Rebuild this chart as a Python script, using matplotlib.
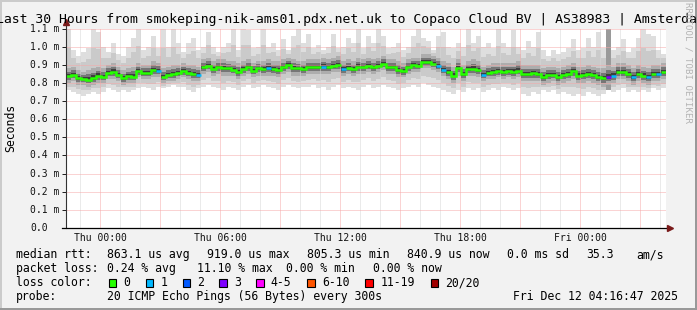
import numpy as np
import matplotlib
matplotlib.use("Agg")
import matplotlib.pyplot as plt
from matplotlib.patches import Rectangle
from matplotlib.transforms import blended_transform_factory

# ---------------- data ----------------
start_hour = -1.72      # hours relative to Thu 00:00
step_hours = 0.25       # one sample every 15 minutes (display resolution)

median = [
    0.840, 0.845, 0.827, 0.822, 0.818, 0.828, 0.840, 0.835, 0.855, 0.862, 0.845, 0.825,
    0.838, 0.835, 0.865, 0.855, 0.855, 0.870, 0.868, 0.835, 0.845, 0.848, 0.855,
    0.864, 0.857, 0.850, 0.845, 0.886, 0.895, 0.878, 0.890, 0.882, 0.880, 0.872, 0.860,
    0.878, 0.885, 0.868, 0.880, 0.876, 0.880, 0.875, 0.870, 0.885, 0.900, 0.882, 0.880, 0.875,
    0.886, 0.885, 0.888, 0.890, 0.888, 0.892, 0.900, 0.875, 0.882, 0.875, 0.890, 0.890,
    0.893, 0.885, 0.895, 0.905, 0.885, 0.885, 0.870, 0.864, 0.890, 0.900, 0.895, 0.915,
    0.915, 0.905, 0.893, 0.872, 0.860, 0.840, 0.882, 0.848, 0.875, 0.878, 0.872, 0.845,
    0.855, 0.860, 0.865, 0.860, 0.865, 0.862, 0.868, 0.848, 0.850, 0.852, 0.850, 0.830,
    0.845, 0.845, 0.835, 0.845, 0.850, 0.865, 0.840, 0.845, 0.850, 0.845, 0.835, 0.825,
    0.830, 0.840, 0.860, 0.860, 0.850, 0.835, 0.848, 0.840, 0.835, 0.850, 0.850, 0.860,
]
smoke_min = [
    0.76, 0.75, 0.74, 0.73, 0.74, 0.75, 0.74, 0.75, 0.77, 0.76, 0.75, 0.76,
    0.75, 0.76, 0.77, 0.78, 0.77, 0.76, 0.78, 0.77, 0.78, 0.79, 0.78,
    0.78, 0.76, 0.75, 0.77, 0.78, 0.79, 0.78, 0.77, 0.76, 0.78, 0.77, 0.76,
    0.78, 0.79, 0.77, 0.78, 0.79, 0.78, 0.77, 0.76, 0.78, 0.79, 0.78, 0.77, 0.78,
    0.78, 0.79, 0.77, 0.78, 0.76, 0.78, 0.79, 0.77, 0.78, 0.77, 0.76, 0.78,
    0.79, 0.77, 0.78, 0.79, 0.78, 0.77, 0.76, 0.77, 0.78, 0.79, 0.78, 0.80,
    0.79, 0.78, 0.77, 0.76, 0.75, 0.74, 0.76, 0.75, 0.77, 0.76, 0.77, 0.75,
    0.76, 0.77, 0.76, 0.78, 0.77, 0.76, 0.77, 0.74, 0.73, 0.75, 0.74, 0.76,
    0.75, 0.76, 0.74, 0.75, 0.74, 0.73, 0.74, 0.73, 0.75, 0.74, 0.73, 0.74,
    0.76, 0.75, 0.76, 0.77, 0.75, 0.76, 0.75, 0.76, 0.75, 0.77, 0.76, 0.77,
]
smoke_p25 = [
    0.80, 0.81, 0.79, 0.79, 0.78, 0.79, 0.80, 0.80, 0.82, 0.82, 0.81, 0.79,
    0.80, 0.80, 0.83, 0.82, 0.82, 0.83, 0.83, 0.80, 0.81, 0.81, 0.82,
    0.83, 0.82, 0.81, 0.81, 0.85, 0.86, 0.84, 0.85, 0.84, 0.84, 0.84, 0.82,
    0.84, 0.85, 0.83, 0.84, 0.84, 0.84, 0.84, 0.83, 0.85, 0.86, 0.84, 0.84, 0.84,
    0.85, 0.85, 0.85, 0.85, 0.85, 0.86, 0.86, 0.84, 0.85, 0.84, 0.85, 0.85,
    0.86, 0.85, 0.86, 0.87, 0.85, 0.85, 0.83, 0.83, 0.85, 0.86, 0.86, 0.88,
    0.88, 0.87, 0.86, 0.84, 0.82, 0.80, 0.84, 0.81, 0.84, 0.84, 0.83, 0.81,
    0.82, 0.82, 0.83, 0.82, 0.83, 0.82, 0.83, 0.81, 0.81, 0.81, 0.81, 0.79,
    0.80, 0.81, 0.79, 0.80, 0.81, 0.82, 0.80, 0.80, 0.81, 0.80, 0.79, 0.78,
    0.79, 0.80, 0.82, 0.82, 0.81, 0.79, 0.81, 0.80, 0.79, 0.81, 0.81, 0.82,
]
smoke_p75 = [
    0.88, 0.89, 0.87, 0.86, 0.87, 0.88, 0.89, 0.88, 0.90, 0.91, 0.89, 0.87,
    0.88, 0.89, 0.91, 0.90, 0.90, 0.92, 0.91, 0.88, 0.89, 0.90, 0.90,
    0.91, 0.90, 0.90, 0.89, 0.93, 0.94, 0.92, 0.93, 0.93, 0.92, 0.92, 0.91,
    0.92, 0.93, 0.91, 0.92, 0.92, 0.93, 0.92, 0.92, 0.93, 0.94, 0.93, 0.92, 0.92,
    0.93, 0.93, 0.93, 0.94, 0.93, 0.94, 0.95, 0.92, 0.93, 0.92, 0.94, 0.93,
    0.94, 0.93, 0.94, 0.95, 0.93, 0.93, 0.92, 0.91, 0.93, 0.94, 0.94, 0.96,
    0.96, 0.95, 0.94, 0.92, 0.91, 0.89, 0.93, 0.90, 0.92, 0.93, 0.92, 0.89,
    0.90, 0.91, 0.91, 0.91, 0.91, 0.91, 0.92, 0.90, 0.90, 0.90, 0.90, 0.88,
    0.89, 0.89, 0.88, 0.89, 0.90, 0.91, 0.89, 0.89, 0.90, 0.89, 0.88, 0.88,
    0.90, 0.89, 0.91, 0.91, 0.90, 0.88, 0.90, 0.89, 0.88, 0.90, 0.90, 0.91,
]
smoke_max = [
    1.10, 0.98, 0.95, 0.97, 0.99, 1.10, 1.08, 1.00, 0.97, 1.02, 0.96, 0.95,
    1.00, 1.05, 1.10, 0.98, 1.00, 1.06, 0.99, 1.10, 1.00, 1.10, 1.02,
    0.97, 1.02, 1.05, 0.98, 1.00, 1.08, 1.00, 0.97, 1.00, 1.02, 1.10, 0.98,
    1.10, 1.09, 0.99, 1.00, 1.10, 1.00, 1.02, 0.98, 1.04, 0.98, 1.06, 1.10, 1.02,
    1.07, 0.99, 1.01, 0.98, 1.00, 1.07, 0.99, 1.00, 1.05, 1.02, 1.10, 0.99,
    1.06, 1.02, 1.10, 1.06, 0.99, 1.00, 1.02, 0.98, 1.00, 1.06, 1.10, 1.05,
    1.03, 0.98, 1.06, 1.08, 1.00, 0.99, 1.02, 1.00, 1.10, 1.02, 1.06, 1.00,
    1.02, 0.99, 1.10, 1.02, 1.00, 1.09, 1.00, 0.98, 1.03, 1.00, 1.08, 0.98,
    0.95, 0.98, 0.96, 0.97, 0.99, 1.04, 0.98, 0.99, 1.05, 1.00, 1.08, 0.99,
    1.10, 0.98, 1.00, 1.04, 0.97, 0.99, 1.05, 1.10, 1.07, 1.06, 0.98, 0.96,
]
lost_pings = [0] * 120
for idx, n in [(18, 1), (26, 1), (40, 1), (51, 1), (55, 1), (74, 1), (75, 1), (83, 1),
               (108, 3), (109, 1), (113, 1), (116, 1), (118, 1)]:
    lost_pings[idx] = n

y_ticks = [0.0, 0.1, 0.2, 0.3, 0.4, 0.5, 0.6, 0.7, 0.8, 0.9, 1.0, 1.1]
y_tick_labels = ["0.0", "0.1 m", "0.2 m", "0.3 m", "0.4 m", "0.5 m", "0.6 m",
                 "0.7 m", "0.8 m", "0.9 m", "1.0 m", "1.1 m"]
x_tick_hours = [0, 6, 12, 18, 24]
x_tick_labels = ["Thu 00:00", "Thu 06:00", "Thu 12:00", "Thu 18:00", "Fri 00:00"]

loss_labels = ["0", "1", "2", "3", "4-5", "6-10", "11-19", "20/20"]
loss_colors = ["#26ff00", "#00b8ff", "#0059ff", "#7e00ff", "#ff00ff", "#ff5500", "#ff0000", "#a10000"]

title = "Last 30 Hours from smokeping-nik-ams01.pdx.net.uk to Copaco Cloud BV | AS38983 | Amsterdam"
legend_row1 = [("median rtt:", 16), ("863.1 us avg", 107.3), ("919.0 us max", 207.3),
               ("805.3 us min", 307.3), ("840.9 us now", 407.3), ("0.0 ms sd", 507.3),
               ("35.3", 586), ("am/s", 636)]
legend_row2 = [("packet loss:", 16), ("0.24 % avg", 107.3), ("11.10 % max", 197.3),
               ("0.00 % min", 286), ("0.00 % now", 372.7)]
legend_row4 = [("probe:", 16), ("20 ICMP Echo Pings (56 Bytes) every 300s", 107.3),
               ("Fri Dec 12 04:16:47 2025", 513.3)]

# ---------------- figure ----------------
W, H = 697, 310
MONO = "DejaVu Sans Mono"
plt.rcParams["font.family"] = MONO

fig = plt.figure(figsize=(W / 100, H / 100), dpi=100)
fig.patch.set_facecolor("#f2f2f2")

def fx(px):
    return px / W

def fy(py):
    return 1 - py / H

ax_left, ax_right, ax_top, ax_bot = 66, 666, 28.5, 228
ax = fig.add_axes([fx(ax_left), fy(ax_bot), (ax_right - ax_left) / W, (ax_bot - ax_top) / H])
ax.set_facecolor("white")
n = len(median)
t_edges = start_hour + step_hours * np.arange(n + 1)
ax.set_xlim(t_edges[0], t_edges[-1])
ax.set_ylim(0, 1.1)

def ext(a):
    a = np.asarray(a, dtype=float)
    return np.r_[a, a[-1]]

med = np.asarray(median)
lo = np.asarray(smoke_min)
hi = np.asarray(smoke_max)
p25 = np.asarray(smoke_p25)
p75 = np.asarray(smoke_p75)

# smoke: graded bands from the outermost pings towards the median
shades = [(0.0, "#dedede"), (0.5, "#cacaca")]
for frac, col in shades:
    ax.fill_between(t_edges, ext(lo + (p25 - lo) * frac), ext(hi + (p75 - hi) * frac),
                    step="post", color=col, lw=0, zorder=1)
for i, lp in enumerate(lost_pings):
    if lp >= 3:
        ax.fill_between(t_edges[i:i + 2], [lo[i]] * 2, [hi[i]] * 2,
                        step="post", color="#9a9a9a", lw=0, zorder=1.1)
inner = [(0.0, "#adadad"), (0.45, "#767676"), (0.75, "#3e3e3e")]
for frac, col in inner:
    ax.fill_between(t_edges, ext(p25 + (med - p25) * frac), ext(p75 + (med - p75) * frac),
                    step="post", color=col, lw=0, zorder=1.2)

# grid (on top of smoke)
dot = (0, (1, 1))
for h in range(-1, 29):
    col = "#f7a8a8" if h % 3 == 0 else "#d6d6d6"
    ax.axvline(h, color=col, lw=0.72, ls=dot, zorder=2)
for v in y_ticks[1:]:
    ax.axhline(v, color="#f7a8a8", lw=0.72, ls=dot, zorder=2)

# median line coloured by loss
def loss_index(lp):
    if lp <= 3:
        return lp
    if lp <= 5:
        return 4
    if lp <= 10:
        return 5
    if lp <= 19:
        return 6
    return 7

green = np.array([m if lp == 0 else np.nan for m, lp in zip(median, lost_pings)])
ax.plot(t_edges, ext(green), drawstyle="steps-post", color=loss_colors[0], lw=1.8, zorder=3,
        solid_capstyle="butt", solid_joinstyle="miter")
for i, lp in enumerate(lost_pings):
    if lp > 0:
        ax.plot(t_edges[i:i + 2], [median[i]] * 2, color=loss_colors[loss_index(lp)], lw=1.8,
                zorder=3.1, solid_capstyle="butt")

# axes cosmetics
for s in ax.spines.values():
    s.set_visible(False)
ax.set_xticks([])
ax.set_yticks(y_ticks)
ax.set_yticklabels([])
ax.tick_params(axis="y", length=3.2, width=0.72, color="#222222")

ax.plot([0, 0], [0, 1.03], transform=ax.transAxes, color="#333333", lw=0.8, clip_on=False, zorder=4)
ax.plot([-0.007, 1.006], [0, 0], transform=ax.transAxes, color="#000000", lw=0.9, clip_on=False, zorder=4)
ax.plot([0], [1.035], transform=ax.transAxes, marker="^", color="#7a1a1a", ms=4, clip_on=False, zorder=5)
ax.plot([1.007], [0], transform=ax.transAxes, marker=">", color="#7a1a1a", ms=4, clip_on=False, zorder=5)

# tick labels
ty = blended_transform_factory(fig.transFigure, ax.transData)
for v, lab in zip(y_ticks, y_tick_labels):
    fig.text(fx(30), v, lab, transform=ty, ha="left", va="center", fontsize=7.0, color="#111111")
tx = blended_transform_factory(ax.transData, fig.transFigure)
for h, lab in zip(x_tick_hours, x_tick_labels):
    fig.text(h, fy(238), lab, transform=tx, ha="center", va="center", fontsize=7.0, color="#111111")

# title, y label, watermark
fig.text(fx(350), fy(19), title, ha="center", va="center", fontsize=9.45, color="#000000")
fig.text(fx(11), fy(128), "Seconds", rotation=90, ha="center", va="center", fontsize=8.3)
fig.text(fx(688), fy(63), "RRDTOOL / TOBI OETIKER", rotation=270, ha="center", va="center",
         fontsize=6.6, color="#b4b4b4")

# legend
LF = 8.3
for txt, x in legend_row1:
    fig.text(fx(x), fy(254.5), txt, ha="left", va="center", fontsize=LF)
for txt, x in legend_row2:
    fig.text(fx(x), fy(268.5), txt, ha="left", va="center", fontsize=LF)
fig.text(fx(16), fy(282.5), "loss color:", ha="left", va="center", fontsize=LF)
box_x = [108.7, 145.7, 182.7, 219.3, 256, 307.3, 365.3, 430.7]
lab_x = [123.3, 160.7, 197.3, 234, 270.7, 322.7, 380.7, 445.3]
for bx, lx, lab, col in zip(box_x, lab_x, loss_labels, loss_colors):
    fig.patches.append(Rectangle((fx(bx), fy(286.5)), 7.5 / W, 7.5 / H, transform=fig.transFigure,
                                 facecolor=col, edgecolor="black", lw=0.8))
    fig.text(fx(lx), fy(282.5), lab, ha="left", va="center", fontsize=LF)
for txt, x in legend_row4:
    fig.text(fx(x), fy(296.5), txt, ha="left", va="center", fontsize=LF)

# 3D frame
fig.patches.append(Rectangle((0, fy(2)), 1, 2 / H, transform=fig.transFigure, color="#cbcbcb", lw=0))
fig.patches.append(Rectangle((0, 0), 2 / W, 1, transform=fig.transFigure, color="#cbcbcb", lw=0))
fig.patches.append(Rectangle((0, 0), 1, 2 / H, transform=fig.transFigure, color="#999999", lw=0))
fig.patches.append(Rectangle((fx(W - 2), 0), 2 / W, 1, transform=fig.transFigure, color="#999999", lw=0))

fig.savefig("out.png", dpi=100, facecolor=fig.get_facecolor())
